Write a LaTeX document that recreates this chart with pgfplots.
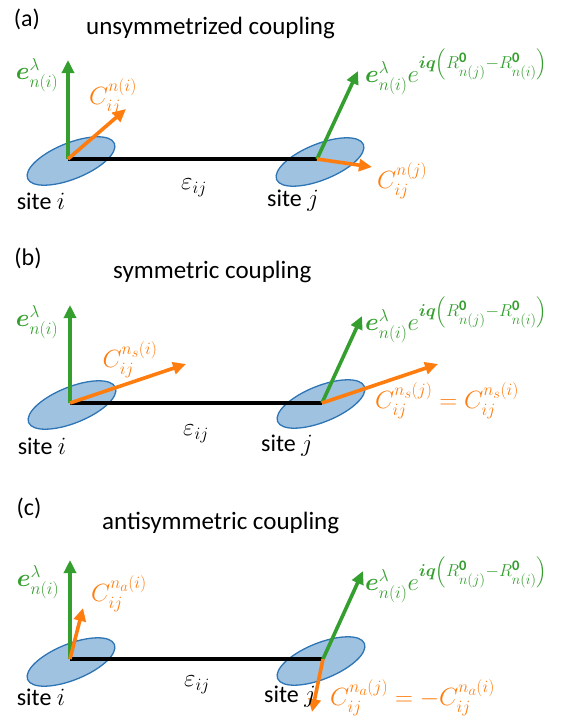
\documentclass[border=0pt]{standalone}
\usepackage{amsmath,bm}
\usepackage{fontspec}
\setmainfont{Carlito}
\usepackage{pgfplots}
\pgfplotsset{compat=1.18}
\usetikzlibrary{arrows.meta}
% larger script sizes for the labels
\DeclareMathSizes{24}{24}{17.5}{14.5}

\definecolor{cgreen}{RGB}{52,158,46}
\definecolor{corange}{RGB}{255,125,15}
\definecolor{ellfill}{RGB}{158,194,224}
\definecolor{elldraw}{RGB}{46,117,182}

\newcommand{\evec}{\bm{e}^{\lambda}_{n(i)}}
\newcommand{\ephase}{\bm{e}^{\lambda}_{n(i)}e^{\bm{iq}\left(R^{\mathbf{0}}_{n(j)}-R^{\mathbf{0}}_{n(i)}\right)}}

\begin{document}
\begin{tikzpicture}[every node/.append style={font=\fontsize{24}{29}\selectfont, inner sep=0pt}]
\begin{axis}[
  width=575pt, height=720pt, scale only axis,
  xmin=0, xmax=575, ymin=0, ymax=720, y dir=reverse,
  hide axis, clip=false, clip marker paths=true,
  garrow/.style={cgreen, line width=3.6pt, -{Triangle[length=13pt, width=12pt]}},
  oarrow/.style={corange, line width=3.6pt, -{Triangle[length=13pt, width=12pt]}},
]
\path (rel axis cs:0,0) rectangle (rel axis cs:1,1);

% sites: tilted ellipses
\addplot[only marks, mark=*, mark size=18pt,
  mark options={rotate=22, xscale=2.6, fill=ellfill, draw=elldraw, line width=1.3pt}]
  coordinates {(71,161) (320,162) (72,405) (321,404) (71,662) (321,661)};

% bonds
\addplot[black, line width=4pt] coordinates {(68,159) (317,159)};
\addplot[black, line width=4pt] coordinates {(70,403) (322,403)};
\addplot[black, line width=4pt] coordinates {(70,659) (323,659)};

% (a) unsymmetrized coupling
\addplot[garrow] coordinates {(68,159) (68,60)};
\addplot[garrow] coordinates {(317,159) (358,71)};
\addplot[oarrow] coordinates {(68,159) (126,109)};
\addplot[oarrow] coordinates {(317,159) (372,167)};

% (b) symmetric coupling
\addplot[garrow] coordinates {(70,403) (70,305)};
\addplot[garrow] coordinates {(322,403) (362,316)};
\addplot[oarrow] coordinates {(70,403) (186,364)};
\addplot[oarrow] coordinates {(322,403) (438,364)};

% (c) antisymmetric coupling
\addplot[garrow] coordinates {(70,659) (70,560)};
\addplot[garrow] coordinates {(323,659) (363,571)};
\addplot[oarrow] coordinates {(70,659) (83,608)};
\addplot[oarrow] coordinates {(323,659) (312,712)};

% panel labels and titles
\node at (axis cs:27,19) {(a)};
\node[anchor=west, font=\fontsize{25}{30}\selectfont] at (axis cs:86,28) {unsymmetrized coupling};
\node at (axis cs:28,258) {(b)};
\node[anchor=west, font=\fontsize{25}{30}\selectfont] at (axis cs:113,272) {symmetric coupling};
\node at (axis cs:29,508) {(c)};
\node[anchor=west, font=\fontsize{25}{30}\selectfont] at (axis cs:102,523) {antisymmetric coupling};

% site and bond labels
\node at (axis cs:41,201) {site $i$};
\node at (axis cs:293,201) {site $j$};
\node at (axis cs:194,188) {$\varepsilon_{ij}$};
\node at (axis cs:42,446) {site $i$};
\node at (axis cs:287,446) {site $j$};
\node at (axis cs:196,434) {$\varepsilon_{ij}$};
\node at (axis cs:41,697) {site $i$};
\node at (axis cs:290,697) {site $j$};
\node at (axis cs:197,685) {$\varepsilon_{ij}$};

% green labels
\node[text=cgreen] at (axis cs:37,75) {$\evec$};
\node[text=cgreen, anchor=west] at (axis cs:365,72) {$\ephase$};
\node[text=cgreen] at (axis cs:37,322) {$\evec$};
\node[text=cgreen, anchor=west] at (axis cs:365,320) {$\ephase$};
\node[text=cgreen] at (axis cs:38,582) {$\evec$};
\node[text=cgreen, anchor=west] at (axis cs:365,580) {$\ephase$};

% orange labels
\node[text=corange] at (axis cs:113,97) {$C_{ij}^{n(i)}$};
\node[text=corange, anchor=west] at (axis cs:377,181) {$C_{ij}^{n(j)}$};
\node[text=corange] at (axis cs:130,360) {$C_{ij}^{n_s(i)}$};
\node[text=corange, anchor=west] at (axis cs:375,401) {$C_{ij}^{n_s(j)}=C_{ij}^{n_s(i)}$};
\node[text=corange] at (axis cs:119,594) {$C_{ij}^{n_a(i)}$};
\node[text=corange, anchor=west] at (axis cs:330,698) {$C_{ij}^{n_a(j)}=-C_{ij}^{n_a(i)}$};
\end{axis}
\end{tikzpicture}
\end{document}
